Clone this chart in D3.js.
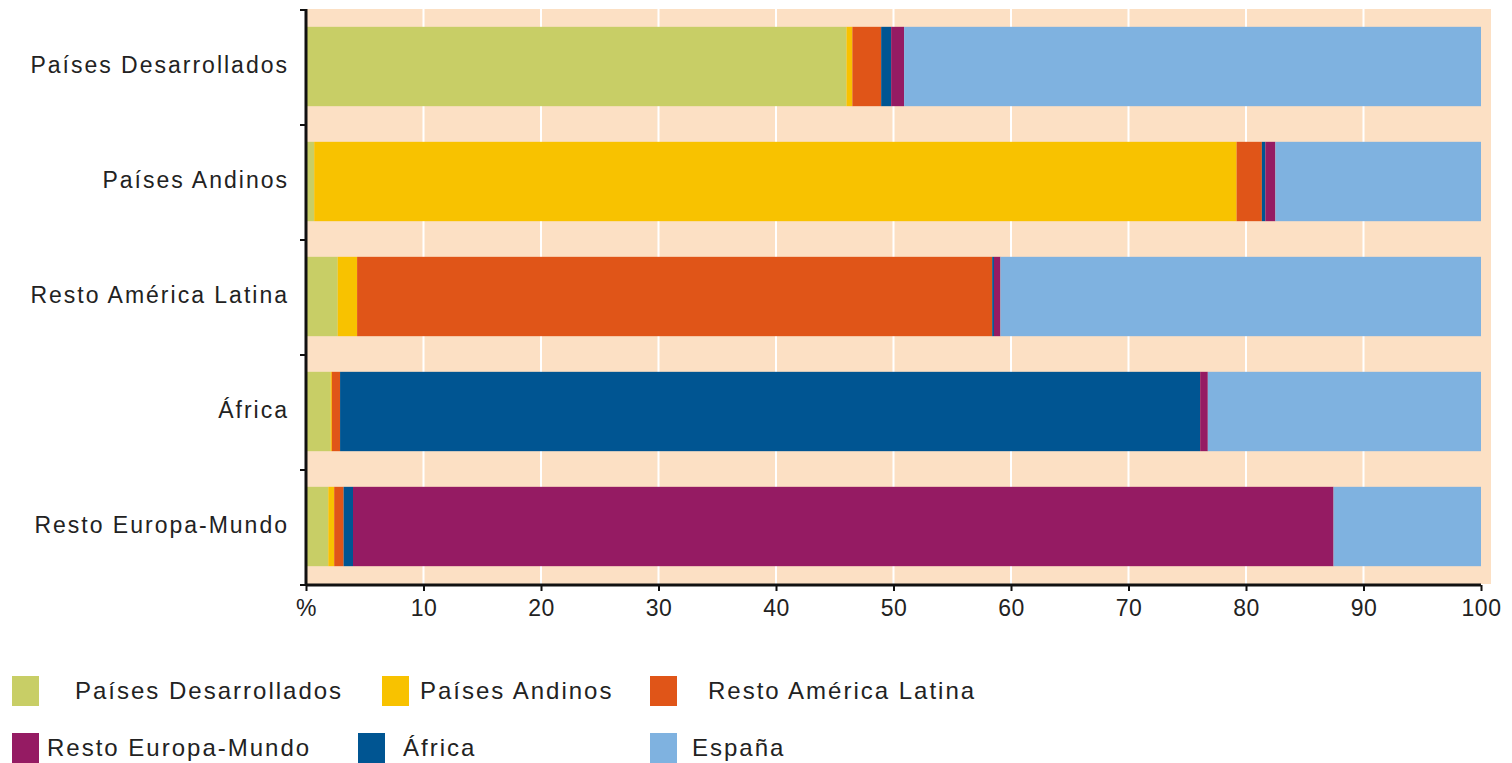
<!DOCTYPE html>
<html><head><meta charset="utf-8">
<script src="https://cdn.jsdelivr.net/npm/d3@7"></script>
<style>body{margin:0;background:#fff;} text{font-family:"Liberation Sans",Arial,sans-serif;fill:#222;}</style>
</head><body>
<svg id="c" width="1512" height="763"></svg>
<script>
const categories = ["Países Desarrollados","Países Andinos","Resto América Latina","África","Resto Europa-Mundo"];
const seriesNames = ["Países Desarrollados","Países Andinos","Resto América Latina","África","Resto Europa-Mundo","España"];
const paisesDesarrollados = [46.0, 0.7, 2.7, 2.1, 1.9];
const paisesAndinos       = [0.5, 78.5, 1.65, 0.1, 0.5];
const restoAmericaLatina  = [2.45, 2.15, 54.05, 0.7, 0.8];
const africa              = [0.85, 0.3, 0.15, 73.2, 0.8];
const restoEuropaMundo    = [1.1, 0.85, 0.55, 0.65, 83.45];
const espana              = [49.1, 17.5, 40.9, 23.25, 12.55];
const xTicks = [0,10,20,30,40,50,60,70,80,90,100];
const xTickLabels = ["%","10","20","30","40","50","60","70","80","90","100"];
const colors = ["#c8ce66","#f8c200","#e05518","#005592","#951b63","#7fb2e0"];

const seriesValues = [paisesDesarrollados,paisesAndinos,restoAmericaLatina,africa,restoEuropaMundo,espana];
const table = categories.map((c,i)=>{const o={cat:c}; seriesNames.forEach((s,j)=>o[s]=seriesValues[j][i]); return o;});
const stack = d3.stack().keys(seriesNames)(table);

const svg = d3.select("#c");
const x = d3.scaleLinear().domain([0,100]).range([306,1481]);
const y = d3.scaleBand().domain(categories).range([9,584]).paddingInner(0.31).paddingOuter(0.155);
const color = d3.scaleOrdinal().domain(seriesNames).range(colors);

// panel background
svg.append("rect").attr("x",x(0)).attr("y",9).attr("width",1491-x(0)).attr("height",584-9).attr("fill","#fce0c4");
// gridlines
svg.append("g").selectAll("line").data(xTicks.filter(d=>d>0&&d<100)).join("line")
  .attr("x1",d=>x(d)).attr("x2",d=>x(d)).attr("y1",9).attr("y2",584)
  .attr("stroke","#fff").attr("stroke-width",2);

// bars
svg.append("g").selectAll("g").data(stack).join("g").attr("fill",d=>color(d.key))
  .selectAll("rect").data(d=>d).join("rect")
  .attr("x",d=>x(d[0])).attr("width",d=>Math.max(0,x(d[1])-x(d[0])))
  .attr("y",d=>y(d.data.cat)).attr("height",y.bandwidth());

// x axis
const xa = svg.append("g").attr("transform","translate(0,585)")
  .call(d3.axisBottom(x).tickValues(xTicks).tickFormat((d,i)=>xTickLabels[i]).tickSize(6).tickPadding(9));
xa.select(".domain").attr("stroke","#111").attr("stroke-width",3).attr("d","M"+x(0)+",0H"+x(100));
xa.selectAll(".tick line").attr("stroke","#111").attr("stroke-width",2);
xa.selectAll(".tick text").attr("font-size",23).attr("fill","#222").style("letter-spacing","0.5px")
  .style("font-family","Liberation Sans, Arial, sans-serif");

// y axis
const bounds = d3.range(categories.length+1).map(i=>9+i*y.step());
const ya = svg.append("g");
ya.append("line").attr("x1",306).attr("x2",306).attr("y1",9).attr("y2",586).attr("stroke","#111").attr("stroke-width",3);
ya.selectAll("line.t").data(bounds).join("line").attr("class","t")
  .attr("x1",300).attr("x2",306).attr("y1",d=>d+1).attr("y2",d=>d+1).attr("stroke","#111").attr("stroke-width",2);
ya.selectAll("text").data(categories).join("text")
  .attr("x",289).attr("y",d=>y(d)+y.bandwidth()/2-2).attr("dy","0.35em")
  .attr("text-anchor","end").attr("font-size",23).style("letter-spacing","2px").text(d=>d);

// legend
const legend = [
  {k:"Países Desarrollados", sx:12, tx:75, y:676},
  {k:"Países Andinos", sx:382, tx:420, y:676},
  {k:"Resto América Latina", sx:650, tx:708, y:676},
  {k:"Resto Europa-Mundo", sx:12, tx:47, y:733},
  {k:"África", sx:358, tx:403, y:733},
  {k:"España", sx:650, tx:692, y:733}
];
const lg = svg.append("g").selectAll("g").data(legend).join("g");
lg.append("rect").attr("x",d=>d.sx).attr("y",d=>d.y).attr("width",27).attr("height",30).attr("fill",d=>color(d.k));
lg.append("text").attr("x",d=>d.tx).attr("y",d=>d.y+15).attr("dy","0.35em").attr("font-size",24)
  .style("letter-spacing","2px").text(d=>d.k);
</script>
</body></html>
